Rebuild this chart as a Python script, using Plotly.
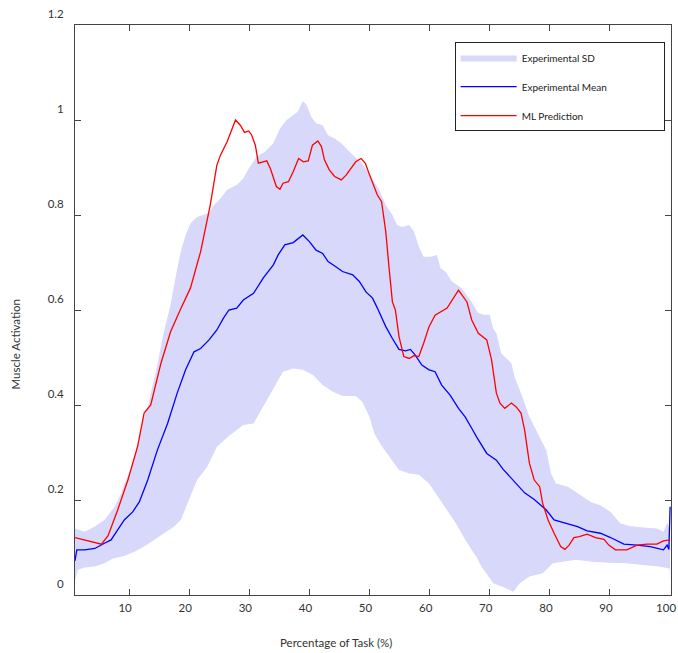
import plotly.graph_objects as go

# ---------------- data ----------------
ml_x = [1, 3, 5.4, 6.5, 8.1, 9.8, 11.4, 12.5, 13.6, 15.3, 16.9, 18.5, 20.2, 21.9, 23.0, 23.5, 24.6,
        25.2, 26.3, 27.7, 28.5, 29.2, 29.9, 30.4, 31.0, 31.5, 32.3, 32.9, 33.5, 34.0, 34.5, 35.1,
        35.6, 36.5, 37.3, 38.2, 39.0, 39.8, 40.5, 41.4, 42.0, 42.5, 43.3, 44.2, 45.3, 46.1, 46.9,
        47.7, 48.6, 49.3, 49.9, 50.8, 51.3, 52.0, 52.7, 53.2, 53.8, 54.3, 54.9, 55.7, 56.6, 57.4,
        58.2, 59.0, 59.9, 60.9, 62.3, 62.9, 64.8, 66.2, 67.0, 68.1, 69.5, 70.3, 71.1, 71.7, 72.5,
        73.6, 74.4, 75.2, 75.8, 76.6, 77.4, 78.3, 78.8, 79.7, 80.7, 81.8, 82.5, 83.2, 84.0, 84.9,
        86.2, 87.6, 89.0, 89.8, 90.9, 92.8, 94.5, 96.2, 97.8, 98.9, 100]
ml_y = [0.121, 0.115, 0.107, 0.125, 0.179, 0.242, 0.312, 0.383, 0.400, 0.488, 0.554, 0.600, 0.646,
        0.723, 0.793, 0.821, 0.905, 0.926, 0.954, 1.000, 0.989, 0.974, 0.977, 0.968, 0.947, 0.909,
        0.912, 0.914, 0.898, 0.877, 0.860, 0.854, 0.867, 0.870, 0.891, 0.919, 0.912, 0.914, 0.947,
        0.956, 0.944, 0.916, 0.895, 0.881, 0.874, 0.884, 0.898, 0.912, 0.919, 0.909, 0.888, 0.856,
        0.842, 0.828, 0.765, 0.695, 0.617, 0.600, 0.544, 0.502, 0.498, 0.504, 0.502, 0.530, 0.565,
        0.589, 0.600, 0.604, 0.642, 0.617, 0.579, 0.551, 0.537, 0.495, 0.425, 0.404, 0.393, 0.404,
        0.396, 0.383, 0.347, 0.277, 0.242, 0.228, 0.193, 0.158, 0.130, 0.102, 0.096, 0.105, 0.121,
        0.123, 0.128, 0.121, 0.117, 0.105, 0.095, 0.095, 0.105, 0.107, 0.107, 0.114, 0.116]

mean_x = [1, 1.3, 2.6, 4.3, 5.9, 7.0, 8.1, 9.2, 10.6, 11.7, 13.1, 14.7, 16.4, 18.0, 19.4, 20.8,
          21.9, 23.3, 24.6, 25.7, 26.6, 27.9, 29.0, 30.7, 32.3, 34.0, 34.8, 35.9, 37.3, 38.9, 40.0,
          41.1, 42.2, 43.1, 44.4, 45.5, 47.2, 48.3, 49.4, 50.5, 51.3, 52.7, 53.8, 54.9, 56.0, 56.8,
          57.6, 58.7, 59.9, 60.9, 62.0, 63.4, 64.8, 65.9, 67.0, 67.8, 69.5, 71.1, 72.2, 73.9, 75.8,
          77.4, 79.4, 80.7, 83.0, 84.6, 86.2, 88.4, 90.1, 92.3, 94.5, 96.7, 98.9, 99.5, 99.8, 100]
mean_y = [0.072, 0.095, 0.095, 0.098, 0.109, 0.116, 0.137, 0.158, 0.175, 0.196, 0.242, 0.305,
          0.361, 0.425, 0.474, 0.512, 0.519, 0.537, 0.558, 0.583, 0.600, 0.604, 0.621, 0.635,
          0.667, 0.695, 0.716, 0.737, 0.742, 0.758, 0.744, 0.726, 0.719, 0.702, 0.691, 0.681,
          0.674, 0.660, 0.638, 0.625, 0.604, 0.565, 0.540, 0.517, 0.514, 0.517, 0.505, 0.484,
          0.474, 0.470, 0.442, 0.421, 0.393, 0.375, 0.351, 0.333, 0.298, 0.284, 0.265, 0.242,
          0.215, 0.201, 0.179, 0.158, 0.149, 0.144, 0.135, 0.130, 0.121, 0.107, 0.105, 0.102,
          0.095, 0.105, 0.096, 0.186]

sd_upper_x = [1, 2.6, 4.3, 5.9, 7.6, 8.7, 9.2, 10.3, 11.4, 12.3, 13.1, 14.2, 14.7, 15.6, 16.4, 16.9,
              17.8, 18.6, 19.4, 20.2, 21.3, 22.4, 23.3, 24.1, 25.2, 26.3, 27.9, 29.0, 29.9, 31.2,
              32.6, 34.0, 35.1, 36.2, 37.3, 38.1, 38.9, 39.5, 40.3, 41.1, 42.2, 43.1, 44.2, 45.3,
              46.4, 47.5, 48.6, 49.7, 50.8, 51.6, 52.7, 53.8, 54.6, 55.4, 56.6, 57.4, 58.2, 59.0,
              60.1, 61.2, 61.8, 62.6, 63.7, 65.3, 67.0, 68.0, 69.0, 70.0, 70.6, 71.1, 71.9, 73.6,
              74.1, 75.2, 76.6, 78.0, 79.4, 80.2, 81.0, 83.0, 84.6, 86.8, 88.4, 90.1, 91.7, 93.4,
              95.6, 97.8, 98.9, 99.5, 100]
sd_upper_y = [0.140, 0.133, 0.144, 0.158, 0.186, 0.214, 0.235, 0.263, 0.312, 0.368, 0.396, 0.453,
              0.484, 0.544, 0.586, 0.611, 0.674, 0.723, 0.758, 0.782, 0.796, 0.800, 0.804, 0.821,
              0.835, 0.853, 0.863, 0.877, 0.898, 0.923, 0.933, 0.951, 0.982, 1.000, 1.011, 1.018,
              1.040, 1.032, 1.007, 0.993, 0.989, 0.968, 0.961, 0.951, 0.937, 0.923, 0.912, 0.891,
              0.870, 0.853, 0.821, 0.800, 0.779, 0.775, 0.779, 0.765, 0.733, 0.712, 0.712, 0.716,
              0.688, 0.681, 0.660, 0.646, 0.617, 0.595, 0.590, 0.590, 0.560, 0.551, 0.509, 0.488,
              0.460, 0.425, 0.375, 0.340, 0.305, 0.256, 0.235, 0.228, 0.214, 0.196, 0.189, 0.175,
              0.151, 0.145, 0.142, 0.140, 0.133, 0.151, 0.140]

sd_lower_x = [1, 1.5, 2.6, 4.3, 5.9, 7.3, 9.2, 10.9, 12.5, 14.2, 15.8, 17.5, 18.6, 19.7, 21.3, 23.0,
              24.6, 26.8, 29.0, 30.7, 32.3, 34.0, 35.6, 37.3, 38.9, 40.6, 42.2, 43.9, 45.5, 47.7,
              48.8, 50.0, 50.8, 52.1, 53.5, 54.9, 56.6, 58.2, 59.9, 61.5, 62.9, 64.2, 65.6, 67.0,
              67.8, 68.6, 70.6, 72.0, 73.9, 75.0, 76.6, 78.8, 80.5, 82.1, 84.3, 87.1, 89.8, 92.6,
              95.3, 98.1, 99.9, 100]
sd_lower_y = [0.030, 0.053, 0.058, 0.060, 0.067, 0.077, 0.082, 0.091, 0.102, 0.116, 0.130, 0.144,
              0.158, 0.193, 0.242, 0.270, 0.312, 0.337, 0.358, 0.361, 0.396, 0.435, 0.470, 0.477,
              0.474, 0.463, 0.442, 0.428, 0.419, 0.419, 0.407, 0.375, 0.340, 0.312, 0.288, 0.263,
              0.256, 0.253, 0.235, 0.207, 0.179, 0.154, 0.123, 0.095, 0.080, 0.060, 0.025, 0.018,
              0.007, 0.025, 0.039, 0.046, 0.067, 0.070, 0.074, 0.070, 0.068, 0.067, 0.063, 0.060,
              0.056, 0.030]

x_ticks = [10, 20, 30, 40, 50, 60, 70, 80, 90, 100]
y_ticks = [0, 0.2, 0.4, 0.6, 0.8, 1, 1.2]

FONT = "Lato"
TXT = "#333333"
PAD = "\u00a0" * 20  # widens the legend box like the reference

fig = go.Figure()
fig.add_trace(go.Scatter(
    x=sd_upper_x + sd_lower_x[::-1], y=sd_upper_y + sd_lower_y[::-1],
    fill="toself", fillcolor="rgb(216,216,250)", line=dict(width=0),
    mode="lines", name="Experimental SD", legendgroup="a", hoverinfo="skip"))
fig.add_trace(go.Scatter(x=mean_x, y=mean_y, mode="lines", name="Experimental Mean" + PAD,
                         line=dict(color="#0000ff", width=1.3), legendgroup="b"))
fig.add_trace(go.Scatter(x=ml_x, y=ml_y, mode="lines", name="ML Prediction",
                         line=dict(color="#ff0000", width=1.3), legendgroup="c"))

axis_common = dict(showgrid=False, zeroline=False, showline=True, linecolor="#444444",
                   linewidth=1, mirror="ticks", ticks="inside", ticklen=6, tickcolor="#444444",
                   tickfont=dict(family=FONT, size=11.5, color=TXT), ticklabeloverflow="allow")
fig.update_xaxes(range=[1, 100.15], tickvals=x_ticks, ticklabelshift=-4, ticklabelstandoff=2,
                 **axis_common)
fig.update_yaxes(range=[0, 1.2], tickvals=y_ticks, ticklabelshift=-11, ticklabelstandoff=8,
                 **axis_common)

fig.update_layout(
    width=678, height=653,
    margin=dict(l=75, r=2, t=25, b=58),
    plot_bgcolor="white", paper_bgcolor="white",
    font=dict(family=FONT, size=11.5, color=TXT),
    showlegend=True,
    legend=dict(x=0.637, y=0.97, xanchor="left", yanchor="top",
                bgcolor="white", bordercolor="#222222", borderwidth=1,
                font=dict(family=FONT, size=10, color="#222222"),
                tracegroupgap=10, itemwidth=56),
    annotations=[
        dict(text="Percentage of Task (%)", xref="paper", yref="paper", x=0.4376, y=-0.0825,
             xanchor="center", yanchor="middle", showarrow=False,
             font=dict(family=FONT, size=11.5, color=TXT)),
        dict(text="Muscle Activation", xref="paper", yref="paper", x=-0.0998, y=0.4386,
             xanchor="center", yanchor="middle", showarrow=False, textangle=-90,
             font=dict(family=FONT, size=11.5, color=TXT)),
    ],
)

fig.write_html("out.html")
